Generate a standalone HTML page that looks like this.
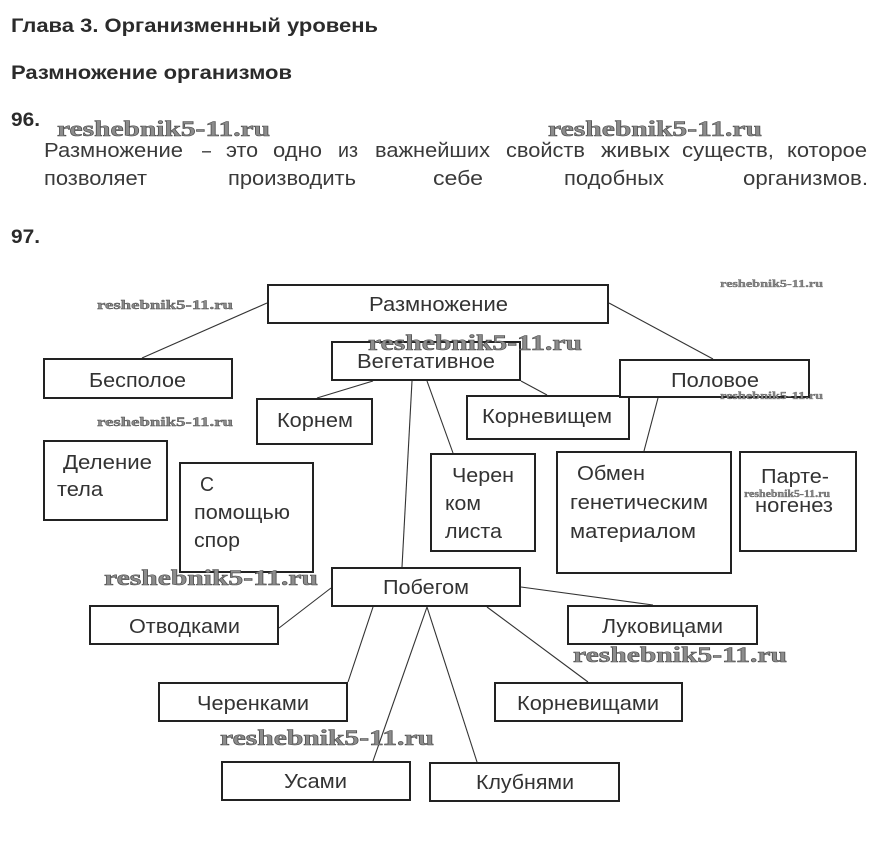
<!DOCTYPE html>
<html><head><meta charset="utf-8"><style>
html,body{margin:0;padding:0;background:#fff;}
svg{display:block;}
.h{font-family:"Liberation Sans","DejaVu Sans",sans-serif;font-weight:bold;font-size:19px;fill:#2b2b2b;}
.p{font-family:"Liberation Sans","DejaVu Sans",sans-serif;font-size:20px;fill:#3a3a3a;}
.l{font-family:"Liberation Sans","DejaVu Sans",sans-serif;font-size:20px;fill:#333;}
.w{font-family:"Liberation Serif","DejaVu Serif",serif;font-weight:bold;fill:#8c8c8c;stroke:#4a4a4a;stroke-width:0.6;}
rect{fill:#fff;stroke:#222;stroke-width:2;}
line{stroke:#333;stroke-width:1.1;}
</style></head><body>
<svg width="878" height="852" viewBox="0 0 878 852" xmlns="http://www.w3.org/2000/svg">
<rect x="-2" y="-2" width="882" height="856" style="stroke:none;fill:#fff"/>
<text class="h" x="11" y="32" textLength="367" lengthAdjust="spacingAndGlyphs">Глава 3. Организменный уровень</text>
<text class="h" x="11" y="79" textLength="281" lengthAdjust="spacingAndGlyphs">Размножение организмов</text>
<text class="h" x="11" y="126" textLength="29" lengthAdjust="spacingAndGlyphs">96.</text>
<text class="h" x="11" y="243" textLength="29" lengthAdjust="spacingAndGlyphs">97.</text>

<g class="p">
<text x="44" y="157" textLength="139" lengthAdjust="spacingAndGlyphs">Размножение</text>
<text x="202" y="157" textLength="9" lengthAdjust="spacingAndGlyphs">–</text>
<text x="226" y="157" textLength="32" lengthAdjust="spacingAndGlyphs">это</text>
<text x="273" y="157" textLength="49" lengthAdjust="spacingAndGlyphs">одно</text>
<text x="338" y="157" textLength="20" lengthAdjust="spacingAndGlyphs">из</text>
<text x="375" y="157" textLength="115" lengthAdjust="spacingAndGlyphs">важнейших</text>
<text x="506" y="157" textLength="79" lengthAdjust="spacingAndGlyphs">свойств</text>
<text x="601" y="157" textLength="69" lengthAdjust="spacingAndGlyphs">живых</text>
<text x="682" y="157" textLength="92" lengthAdjust="spacingAndGlyphs">существ,</text>
<text x="787" y="157" textLength="80" lengthAdjust="spacingAndGlyphs">которое</text>
<text x="44" y="185" textLength="103" lengthAdjust="spacingAndGlyphs">позволяет</text>
<text x="228" y="185" textLength="128" lengthAdjust="spacingAndGlyphs">производить</text>
<text x="433" y="185" textLength="50" lengthAdjust="spacingAndGlyphs">себе</text>
<text x="564" y="185" textLength="100" lengthAdjust="spacingAndGlyphs">подобных</text>
<text x="743" y="185" textLength="125" lengthAdjust="spacingAndGlyphs">организмов.</text>
</g>

<!-- connectors -->
<line x1="267" y1="303" x2="142" y2="358"/>
<line x1="609" y1="303" x2="713" y2="359"/>
<line x1="373" y1="381" x2="317" y2="398"/>
<line x1="412" y1="381" x2="402" y2="567"/>
<line x1="427" y1="381" x2="453" y2="453"/>
<line x1="521" y1="381" x2="547" y2="395"/>
<line x1="658" y1="398" x2="644" y2="451"/>
<line x1="331" y1="588" x2="279" y2="628"/>
<line x1="373" y1="607" x2="348" y2="682"/>
<line x1="427" y1="607" x2="373" y2="761"/>
<line x1="427" y1="607" x2="477" y2="762"/>
<line x1="487" y1="607" x2="588" y2="682"/>
<line x1="521" y1="587" x2="653" y2="605"/>

<!-- boxes -->
<rect x="268" y="285" width="340" height="38"/>
<rect x="44" y="359" width="188" height="39"/>
<rect x="332" y="342" width="188" height="38"/>
<rect x="257" y="399" width="115" height="45"/>
<rect x="44" y="441" width="123" height="79"/>
<rect x="180" y="463" width="133" height="109"/>
<rect x="431" y="454" width="104" height="97"/>
<rect x="467" y="396" width="162" height="43"/>
<rect x="620" y="360" width="189" height="37"/>
<rect x="557" y="452" width="174" height="121"/>
<rect x="740" y="452" width="116" height="99"/>
<rect x="332" y="568" width="188" height="38"/>
<rect x="90" y="606" width="188" height="38"/>
<rect x="159" y="683" width="188" height="38"/>
<rect x="222" y="762" width="188" height="38"/>
<rect x="430" y="763" width="189" height="38"/>
<rect x="495" y="683" width="187" height="38"/>
<rect x="568" y="606" width="189" height="38"/>

<!-- labels -->
<g class="l">
<text x="369" y="311" textLength="139" lengthAdjust="spacingAndGlyphs">Размножение</text>
<text x="89" y="387" textLength="97" lengthAdjust="spacingAndGlyphs">Бесполое</text>
<text x="357" y="368" textLength="138" lengthAdjust="spacingAndGlyphs">Вегетативное</text>
<text x="277" y="427" textLength="76" lengthAdjust="spacingAndGlyphs">Корнем</text>
<text x="63" y="469" textLength="89" lengthAdjust="spacingAndGlyphs">Деление</text>
<text x="57" y="496" textLength="46" lengthAdjust="spacingAndGlyphs">тела</text>
<text x="200" y="491" textLength="14" lengthAdjust="spacingAndGlyphs">С</text>
<text x="194" y="519" textLength="96" lengthAdjust="spacingAndGlyphs">помощью</text>
<text x="194" y="547" textLength="46" lengthAdjust="spacingAndGlyphs">спор</text>
<text x="452" y="482" textLength="62" lengthAdjust="spacingAndGlyphs">Черен</text>
<text x="445" y="510" textLength="36" lengthAdjust="spacingAndGlyphs">ком</text>
<text x="445" y="538" textLength="57" lengthAdjust="spacingAndGlyphs">листа</text>
<text x="482" y="423" textLength="130" lengthAdjust="spacingAndGlyphs">Корневищем</text>
<text x="671" y="387" textLength="88" lengthAdjust="spacingAndGlyphs">Половое</text>
<text x="577" y="480" textLength="68" lengthAdjust="spacingAndGlyphs">Обмен</text>
<text x="570" y="509" textLength="138" lengthAdjust="spacingAndGlyphs">генетическим</text>
<text x="570" y="538" textLength="126" lengthAdjust="spacingAndGlyphs">материалом</text>
<text x="761" y="483" textLength="68" lengthAdjust="spacingAndGlyphs">Парте-</text>
<text x="755" y="512" textLength="78" lengthAdjust="spacingAndGlyphs">ногенез</text>
<text x="383" y="594" textLength="86" lengthAdjust="spacingAndGlyphs">Побегом</text>
<text x="129" y="633" textLength="111" lengthAdjust="spacingAndGlyphs">Отводками</text>
<text x="197" y="710" textLength="112" lengthAdjust="spacingAndGlyphs">Черенками</text>
<text x="284" y="788" textLength="63" lengthAdjust="spacingAndGlyphs">Усами</text>
<text x="476" y="789" textLength="98" lengthAdjust="spacingAndGlyphs">Клубнями</text>
<text x="517" y="710" textLength="142" lengthAdjust="spacingAndGlyphs">Корневищами</text>
<text x="602" y="633" textLength="121" lengthAdjust="spacingAndGlyphs">Луковицами</text>
</g>

<!-- watermarks -->
<text class="w" x="57" y="136" font-size="22" textLength="213" lengthAdjust="spacingAndGlyphs">reshebnik5-11.ru</text>
<text class="w" x="548" y="136" font-size="22" textLength="214" lengthAdjust="spacingAndGlyphs">reshebnik5-11.ru</text>
<text class="w" x="97" y="309" font-size="13" textLength="136" lengthAdjust="spacingAndGlyphs" style="stroke-width:0.4">reshebnik5-11.ru</text>
<text class="w" x="97" y="426" font-size="13" textLength="136" lengthAdjust="spacingAndGlyphs" style="stroke-width:0.4">reshebnik5-11.ru</text>
<text class="w" x="368" y="350" font-size="22" textLength="214" lengthAdjust="spacingAndGlyphs">reshebnik5-11.ru</text>
<text class="w" x="720" y="287" font-size="11" textLength="103" lengthAdjust="spacingAndGlyphs" style="stroke-width:0.3">reshebnik5-11.ru</text>
<text class="w" x="720" y="399" font-size="11" textLength="103" lengthAdjust="spacingAndGlyphs" style="stroke-width:0.3">reshebnik5-11.ru</text>
<text class="w" x="744" y="497" font-size="10" textLength="86" lengthAdjust="spacingAndGlyphs" style="stroke-width:0.3">reshebnik5-11.ru</text>
<text class="w" x="104" y="585" font-size="22" textLength="214" lengthAdjust="spacingAndGlyphs">reshebnik5-11.ru</text>
<text class="w" x="573" y="662" font-size="22" textLength="214" lengthAdjust="spacingAndGlyphs">reshebnik5-11.ru</text>
<text class="w" x="220" y="745" font-size="22" textLength="214" lengthAdjust="spacingAndGlyphs">reshebnik5-11.ru</text>
</svg>
</body></html>
